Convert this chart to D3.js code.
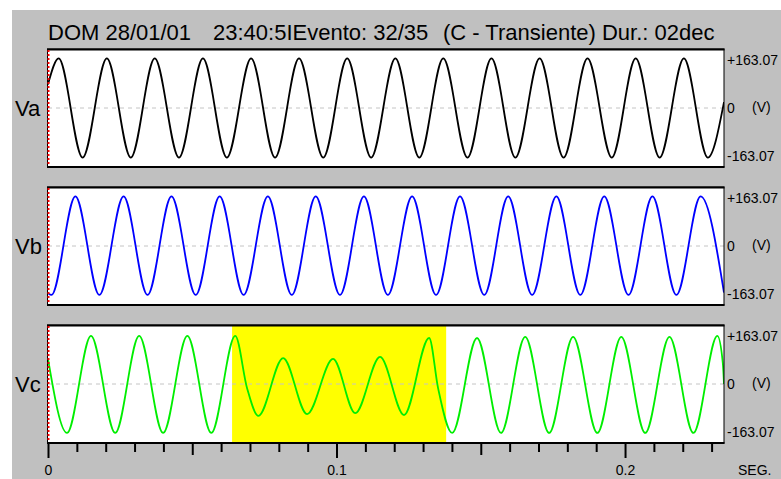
<!DOCTYPE html>
<html lang="en">
<head>
  <meta charset="UTF-8">
  <title>Evento 32/35</title>
  <style>
    body { margin: 0; background: #fff; }
    svg { display: block; font-family: 'Liberation Sans', Arial, sans-serif; }
  </style>
</head>
<body>
  <svg id="svg" width="781" height="479"></svg>
  <script src="https://d3js.org/d3.v7.min.js"></script>
  <script>
    // waveform extrema: [time in ms, volts]
    const vaPts = [[0, 80], [3.7, 168], [12.0, -168], [20.4, 168], [28.7, -168], [37.0, 168], [45.4, -168],
      [53.7, 168], [62.0, -168], [70.4, 168], [78.7, -168], [87.0, 168], [95.4, -168], [103.7, 168],
      [112.0, -168], [120.4, 168], [128.7, -168], [137.0, 168], [145.4, -168], [153.7, 168], [162.0, -168],
      [170.4, 168], [178.7, -168], [187.0, 168], [195.4, -168], [203.7, 168], [212.0, -168], [220.4, 168],
      [228.7, -168], [234.3, 20]]

    const vbPts = [[0, -160], [1.2, -166], [9.5, 168], [17.8, -166], [26.2, 168], [34.5, -166], [42.8, 168],
      [51.2, -166], [59.5, 168], [67.8, -166], [76.2, 168], [84.5, -166], [92.8, 168], [101.2, -166],
      [109.5, 168], [117.8, -166], [126.2, 168], [134.5, -166], [142.8, 168], [151.2, -166], [159.5, 168],
      [167.8, -166], [176.2, 168], [184.5, -166], [192.8, 168], [201.2, -166], [209.5, 168], [217.8, -166],
      [226.2, 168], [234.3, -158]]

    const vcPts = [[0, 85], [6.6, -166], [14.9, 163], [23.3, -166], [31.6, 163], [39.9, -166], [48.3, 163],
      [56.6, -166], [64.9, 163], [69.0, -14], [72.9, -108], [81.5, 88], [89.8, -102], [98.8, 85],
      [106.5, -99], [115.1, 92], [123.4, -105], [132.1, 156], [135.2, -14], [140.1, -166], [148.7, 156],
      [157.0, -166], [165.4, 160], [173.7, -166], [182.0, 160], [190.4, -166], [198.7, 160], [207.0, -166],
      [215.4, 160], [223.7, -166], [232.0, 163], [233.9, 70], [234.3, 0]]

    const channels = ['Va', 'Vb', 'Vc']
    const colors = ['#000000', '#0000ff', '#00ee00']
    const eventSpan = [63.8, 138.0]   // ms, transient window on Vc
    const vTicks = [163.07, 0, -163.07]
    const majorTicks = [0, 0.1, 0.2]
    const midTicks = [0.05, 0.15]
    const minorTicks = [0.01, 0.02, 0.03, 0.04, 0.06, 0.07, 0.08, 0.09, 0.11, 0.12, 0.13, 0.14,
      0.16, 0.17, 0.18, 0.19, 0.21, 0.22, 0.23]
    const titleParts = ['DOM 28/01/01', '23:40:5IEvento: 32/35', '(C - Transiente) Dur.: 02dec']

    const left = 48, right = 724
    const tops = [49, 187, 325]
    const panelH = 118

    const svg = d3.select('#svg')

    svg.append('rect')
      .attr('x', 12).attr('y', 10)
      .attr('width', 781 - 12).attr('height', 479 - 10)
      .attr('fill', '#c0c0c0')

    const x = d3.scaleLinear()
      .domain([0, 0.2343])
      .range([left, right])

    // title
    svg.selectAll('text.title')
      .data(titleParts)
      .enter()
      .append('text')
      .attr('class', 'title')
      .attr('x', (d, i) => [48, 213, 443][i])
      .attr('y', 40)
      .style('font-size', '22px')
      .text(d => d)

    const panels = [vaPts, vbPts, vcPts].map((pts, i) => ({ name: channels[i], pts, color: colors[i], top: tops[i] }))

    svg.append('defs').append('clipPath')
      .attr('id', 'clip')
      .append('rect')
      .attr('x', left).attr('y', 0)
      .attr('width', right - left).attr('height', panelH)

    panels.forEach((p, i) => {
      const y = d3.scaleLinear()
        .domain([-200, 200])
        .range([panelH, 0])

      const g = svg.append('g')
        .attr('transform', `translate(0,${p.top})`)

      g.append('rect')
        .attr('x', left).attr('y', 0)
        .attr('width', right - left).attr('height', panelH)
        .attr('fill', '#fff')

      if (i === 2) {
        g.append('rect')
          .attr('x', x(eventSpan[0] / 1000))
          .attr('y', 0)
          .attr('width', x(eventSpan[1] / 1000) - x(eventSpan[0] / 1000))
          .attr('height', panelH)
          .attr('fill', '#ffff00')
      }

      g.append('line')
        .attr('x1', left).attr('x2', right)
        .attr('y1', y(0)).attr('y2', y(0))
        .attr('stroke', '#c4c4c4')
        .attr('stroke-dasharray', '4,4')

      const line = d3.line()
        .x(d => x(d[0] / 1000))
        .y(d => y(d[1]))
        .curve(d3.curveMonotoneX)

      g.append('path')
        .attr('d', line(p.pts))
        .attr('clip-path', 'url(#clip)')
        .attr('fill', 'none')
        .attr('stroke', p.color)
        .attr('stroke-width', 1.8)

      // frame
      g.append('rect')
        .attr('x', left - 0.5).attr('y', 0)
        .attr('width', right - left + 0.5).attr('height', panelH)
        .attr('fill', 'none')
        .attr('stroke', '#000')
      g.append('line')
        .attr('x1', left - 1).attr('x2', right + 0.5)
        .attr('y1', 0.5).attr('y2', 0.5)
        .attr('stroke', '#000').attr('stroke-width', 2)
      g.append('line')
        .attr('x1', left - 1).attr('x2', right + 0.5)
        .attr('y1', panelH).attr('y2', panelH)
        .attr('stroke', '#000').attr('stroke-width', 2)

      // red trigger marker on the left edge
      g.append('line')
        .attr('x1', left + 0.5).attr('x2', left + 0.5)
        .attr('y1', 1).attr('y2', panelH - 1)
        .attr('stroke', '#ff0000')
        .attr('stroke-width', 2)
        .attr('stroke-dasharray', '2,2')

      g.append('text')
        .attr('x', 15)
        .attr('y', y(0) + 8)
        .style('font-size', '22px')
        .text(p.name)

      const yAxis = g.append('g')
        .attr('transform', `translate(${right},0)`)
        .call(d3.axisRight(y)
          .tickValues(vTicks)
          .tickSize(0)
          .tickPadding(3)
          .tickFormat(d => d > 0 ? '+' + d.toFixed(2) : d < 0 ? '-' + Math.abs(d).toFixed(2) : '0'))
      yAxis.select('.domain').remove()
      yAxis.selectAll('text')
        .style('font-family', "'Liberation Sans', Arial, sans-serif")
        .style('font-size', '14px')
        .attr('fill', '#000')

      g.append('text')
        .attr('x', 752)
        .attr('y', y(0))
        .attr('dy', '0.32em')
        .style('font-size', '14px')
        .text('(V)')
    })

    // time axis
    const axisTop = tops[2] + panelH
    const addAxis = (vals, size, withLabels) => {
      const a = svg.append('g')
        .attr('transform', `translate(0,${axisTop})`)
        .call(d3.axisBottom(x)
          .tickValues(vals)
          .tickSize(size)
          .tickPadding(7)
          .tickFormat(withLabels ? (d => d === 0 ? '0' : d3.format('.1f')(d)) : ''))
      a.select('.domain').remove()
      a.selectAll('line').attr('stroke', '#000').attr('stroke-width', 2)
      a.selectAll('text')
        .style('font-family', "'Liberation Sans', Arial, sans-serif")
        .style('font-size', '14px')
        .attr('fill', '#000')
    }
    addAxis(minorTicks, 9, false)
    addAxis(midTicks, 12, false)
    addAxis(majorTicks, 15, true)

    svg.append('text')
      .attr('x', 738)
      .attr('y', 475)
      .style('font-size', '14px')
      .text('SEG.')
  </script>
</body>
</html>
